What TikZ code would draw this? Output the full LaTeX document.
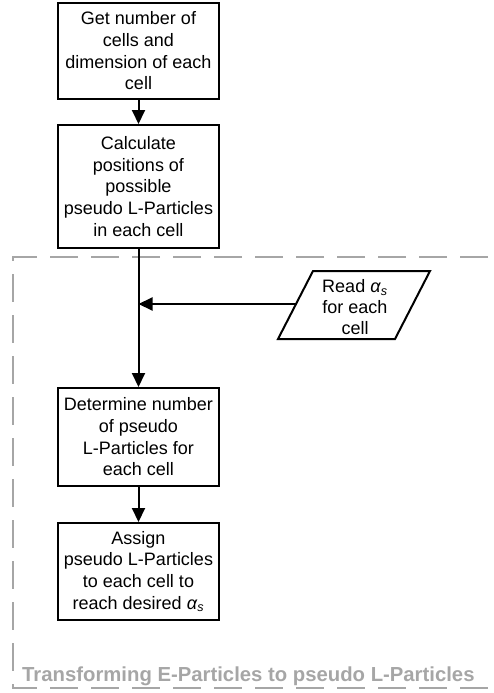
\documentclass[tikz,border=0pt]{standalone}
\usepackage{fontspec}
\setmainfont{Liberation Sans}
\usetikzlibrary{arrows.meta}
\definecolor{framegray}{HTML}{A6A6A6}
\newcommand{\alphas}{\textit{α}\textsubscript{\textit{s}}}
\tikzset{
  stepbox/.style={draw=black, line width=2pt, fill=white, align=center,
    minimum width=161pt, inner sep=2pt,
    font=\fontsize{18}{21.7}\selectfont},
  flow/.style={line width=2pt, -{Triangle[length=14pt,width=13pt]}},
  frame/.style={draw=framegray, line width=1.5pt, dash pattern=on 28pt off 13pt},
  framelabel/.style={text=framegray, font=\bfseries\fontsize{20.3}{24}\selectfont, inner sep=0pt},
}
\begin{document}
\begin{tikzpicture}[x=1pt, y=-1pt]
  \useasboundingbox (0,0) rectangle (494,693);

  % process boundary (open on the right)
  \draw[frame] (488,257) -- (13,257) -- (13,688) -- (488,688);
  \node[framelabel, anchor=base west] (lbl) at (22,681) {Transforming E-Particles to pseudo L-Particles};

  % steps
  \node[stepbox, minimum height=96pt] (s1) at (138.5,51)
    {Get number of\\cells and\\dimension of each\\cell};
  \node[stepbox, minimum height=123pt] (s2) at (138.5,186.5)
    {Calculate\\positions of\\possible\\pseudo L-Particles\\in each cell};
  \node[stepbox, minimum height=98pt] (s3) at (138.5,437)
    {Determine number\\of pseudo\\L-Particles for\\each cell};
  \node[stepbox, minimum height=97pt] (s4) at (138.5,571.5)
    {Assign\\pseudo L-Particles\\to each cell to\\reach desired \alphas};

  % input parallelogram
  \coordinate (p1) at (313,271);
  \coordinate (p2) at (430,271);
  \coordinate (p3) at (395,339);
  \coordinate (p4) at (278,339);
  \draw[line width=2pt, fill=white, line join=miter] (p1) -- (p2) -- (p3) -- (p4) -- cycle;
  \node[align=center, font=\fontsize{18}{21}\selectfont, inner sep=0pt] (rd) at (355,307)
    {Read \alphas\\for each\\cell};
  \coordinate (rin) at (295.5,304);
  \coordinate (join) at (138.5,304);

  % connectors
  \draw[flow] (s1) -- (s2);
  \draw[flow] (s2) -- (s3);
  \draw[flow] (s3) -- (s4);
  \draw[flow] (rin) -- (join);
\end{tikzpicture}
\end{document}
